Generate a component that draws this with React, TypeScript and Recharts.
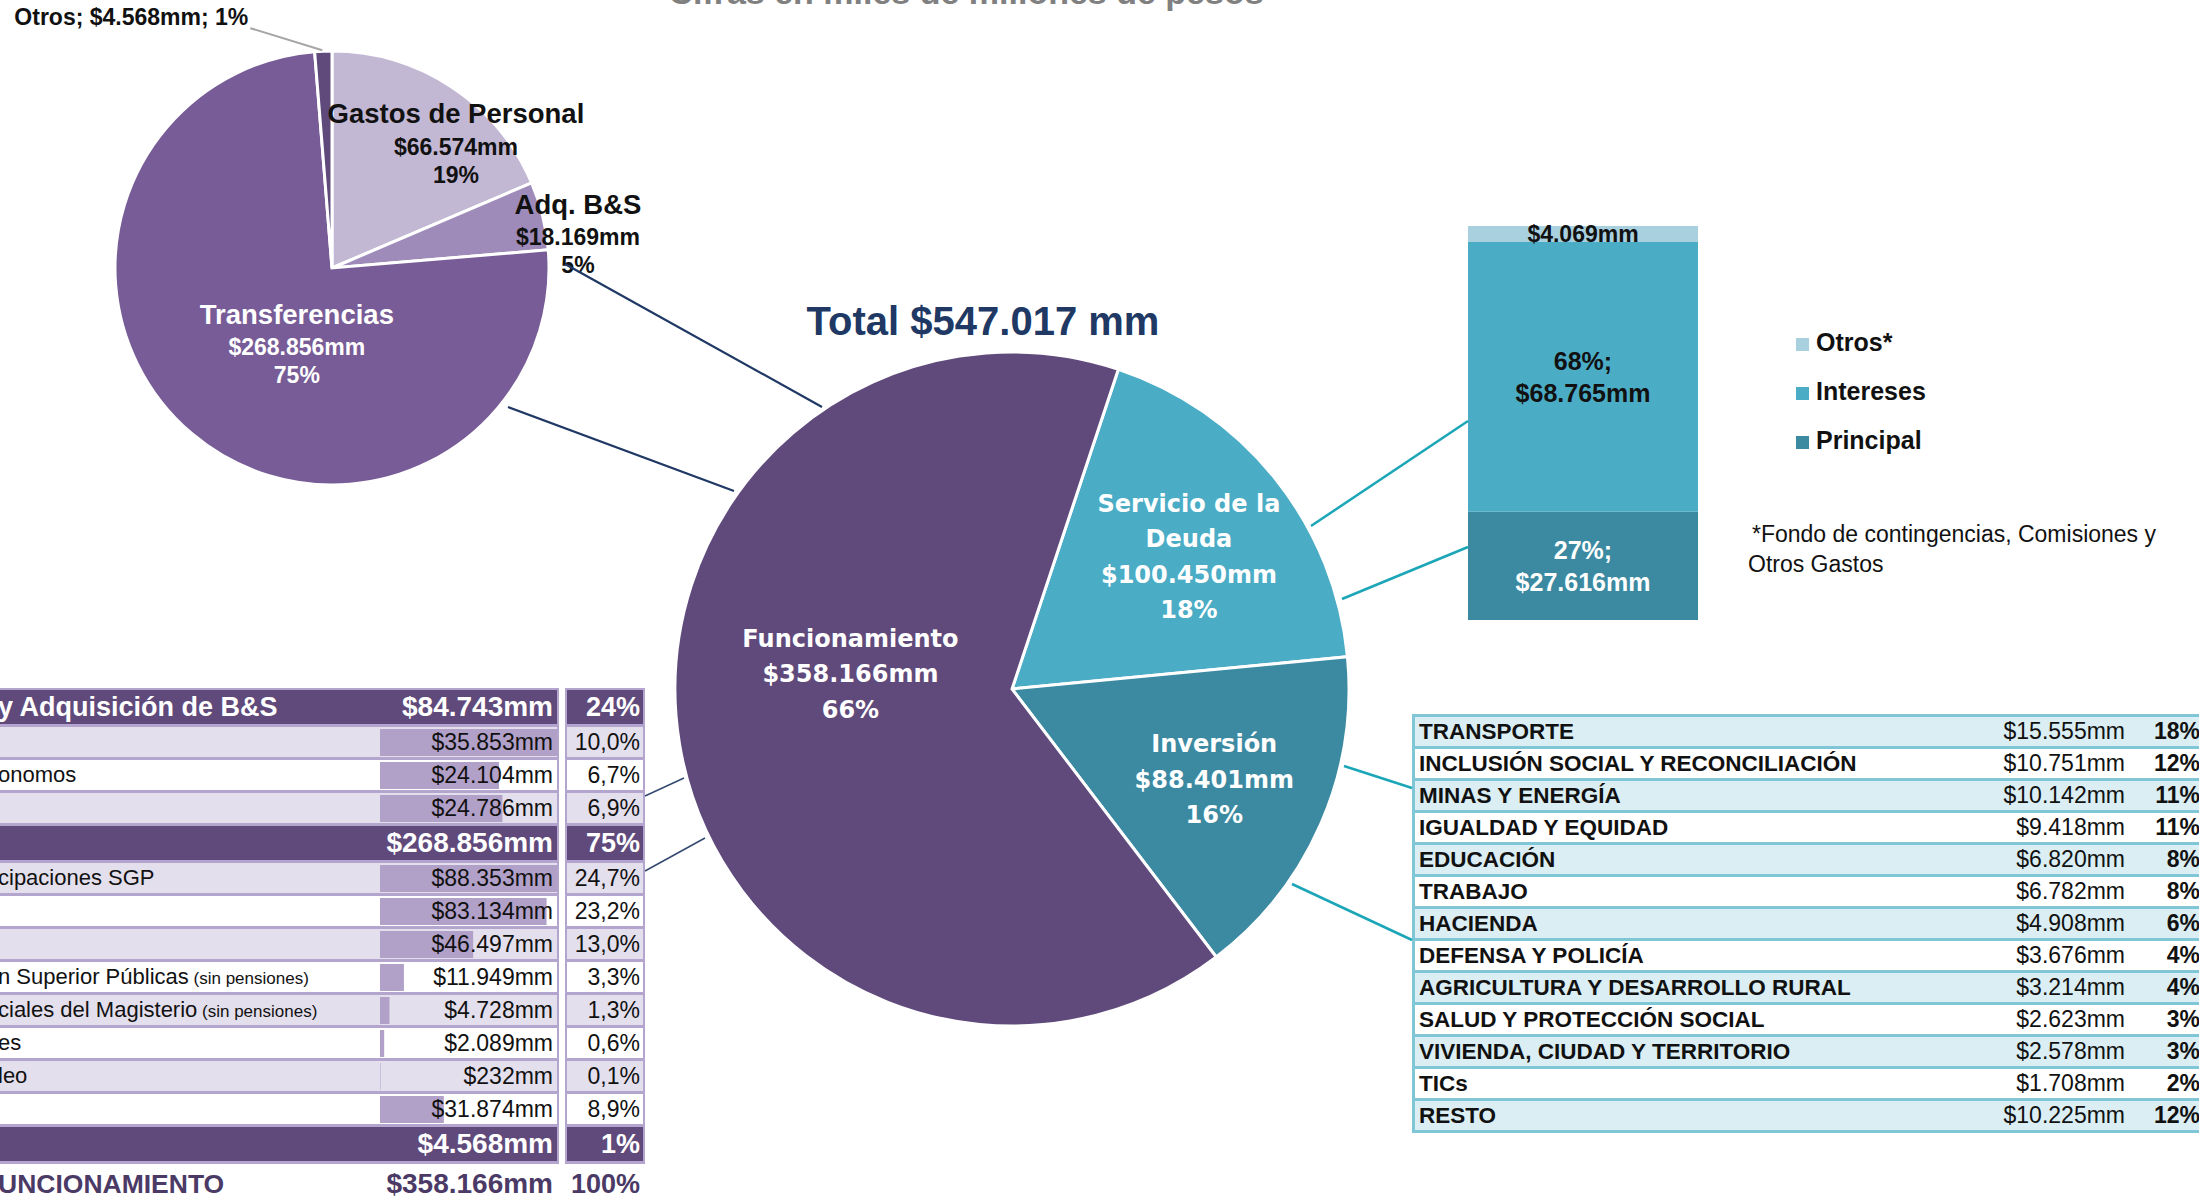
import { PieChart, Pie, Cell, BarChart, Bar, XAxis, YAxis, LabelList } from "recharts";

const SANS = '"Liberation Sans", Arial, Helvetica, sans-serif';
const WIDE = '"DejaVu Sans", Verdana, sans-serif';
const RAD = Math.PI / 180;

// cifras en miles de millones de pesos
const subtitle = "Cifras en miles de millones de pesos";
const totalLabel = "Total $547.017 mm";

const mainNames = ["Servicio de la Deuda", "Inversión", "Funcionamiento"];
const mainValues = [100450, 88401, 358166];
const mainPcts = [18, 16, 66];

const funcNames = ["Gastos de Personal", "Adq. B&S", "Transferencias", "Otros"];
const funcValues = [66574, 18169, 268856, 4568];
const funcPcts = [19, 5, 75, 1];

const debtNames = ["Principal", "Intereses", "Otros*"];
const debtValues = [27616, 68765, 4069];
const debtPcts = [27, 68, 3];
const debtNote = ["*Fondo de contingencias, Comisiones y", "Otros Gastos"];

const headerLabels = ["y Adquisición de B&S", "", ""];
const headerValues = [84743, 268856, 4568];

const gastosLabels = ["", "onomos", ""];
const gastosValues = [35853, 24104, 24786];

const transfLabels = ["cipaciones SGP", "", "", "n Superior Públicas", "ciales del Magisterio", "es", "leo", ""];
const transfNotes = ["", "", "", "(sin pensiones)", "(sin pensiones)", "", "", ""];
const transfValues = [88353, 83134, 46497, 11949, 4728, 2089, 232, 31874];

const funcTotalLabel = "UNCIONAMIENTO";
const funcTotal = 358166;

const sectorNames = [
  "TRANSPORTE",
  "INCLUSIÓN SOCIAL Y RECONCILIACIÓN",
  "MINAS Y ENERGÍA",
  "IGUALDAD Y EQUIDAD",
  "EDUCACIÓN",
  "TRABAJO",
  "HACIENDA",
  "DEFENSA Y POLICÍA",
  "AGRICULTURA Y DESARROLLO RURAL",
  "SALUD Y PROTECCIÓN SOCIAL",
  "VIVIENDA, CIUDAD Y TERRITORIO",
  "TICs",
  "RESTO",
];
const sectorValues = [15555, 10751, 10142, 9418, 6820, 6782, 4908, 3676, 3214, 2623, 2578, 1708, 10225];
const investTotal = 88401;

// colours
const MAIN_COLORS = ["#4BACC6", "#3C8AA2", "#5F4A7B"];
const FUNC_COLORS = ["#C3B8D4", "#9E8BB9", "#775C97", "#5F4A7B"];
const DEBT_COLORS = ["#3C8AA2", "#4BACC6", "#A9D0DF"];
const HEAD = "#5F4A7B";
const LIGHT = "#E4DFEC";
const LAV_LINE = "#B4A5CF";
const DATABAR = "#B1A0C8";
const TEAL_LINE = "#7FC7D6";
const TEAL_LIGHT = "#DAEEF3";

const fmt = (v: number) => "$" + String(v).replace(/\B(?=(\d{3})+(?!\d))/g, ".") + "mm";
const pct1 = (v: number) => ((v / funcTotal) * 100).toFixed(1).replace(".", ",") + "%";
const wrap = (s: string, max: number) => {
  const lines: string[] = [];
  let cur = "";
  s.split(" ").forEach((w) => {
    const t = cur ? cur + " " + w : w;
    if (t.length > max && cur) {
      lines.push(cur);
      cur = w;
    } else cur = t;
  });
  if (cur) lines.push(cur);
  return lines;
};

const mainData = mainNames.map((name, i) => ({ name, value: mainValues[i] }));
const funcData = funcNames.map((name, i) => ({ name, value: funcValues[i] }));
const debtRow = [debtValues.reduce((o: any, v, i) => ({ ...o, ["s" + i]: v }), { name: "Deuda" })];
const debtTotal = debtValues.reduce((a, b) => a + b, 0);

// label placement (radius factor + nudge)
const mainLabelPos = [
  { r: 0.66, dx: 3, dy: 6 },
  { r: 0.655, dx: 0, dy: 2 },
  { r: 0.48, dx: -2, dy: -42 },
];
const funcLabelPos = [
  { r: 0.81, dx: 27, dy: 23, color: "#111" },
  { r: 1.13, dx: 8, dy: 26, color: "#111" },
  { r: 0.4, dx: 21, dy: 11, color: "#fff" },
];

const renderMainLabel = (p: any) => {
  const { cx, cy, midAngle, outerRadius, index } = p;
  const pos = mainLabelPos[index];
  const x = cx + outerRadius * pos.r * Math.cos(-midAngle * RAD) + pos.dx;
  const y = cy + outerRadius * pos.r * Math.sin(-midAngle * RAD) + pos.dy;
  const lines = [...wrap(mainNames[index], 14), fmt(mainValues[index]), mainPcts[index] + "%"];
  const lh = 35.5;
  const y0 = y - ((lines.length - 1) * lh) / 2;
  return (
    <text x={x} textAnchor="middle" fill="#fff" fontFamily={WIDE} fontWeight={700} fontSize={24}>
      {lines.map((l, i) => (
        <tspan key={i} x={x} y={y0 + i * lh} dy="0.36em">
          {l}
        </tspan>
      ))}
    </text>
  );
};

const renderFuncLabel = (p: any) => {
  const { cx, cy, midAngle, outerRadius, index } = p;
  const ex = cx + outerRadius * Math.cos(-midAngle * RAD);
  const ey = cy + outerRadius * Math.sin(-midAngle * RAD);
  if (index === 3) {
    // small slice: outside label with leader
    return (
      <g>
        <line x1={ex - 1} y1={ey - 1} x2={ex - 73} y2={ey - 23} stroke="#A6A6A6" strokeWidth={2} />
        <text x={ex - 75} y={ey - 26} textAnchor="end" fontFamily={SANS} fontWeight={700} fontSize={23} fill="#111">
          {`${funcNames[index]}; ${fmt(funcValues[index])}; ${funcPcts[index]}%`}
        </text>
      </g>
    );
  }
  const pos = funcLabelPos[index];
  const x = cx + outerRadius * pos.r * Math.cos(-midAngle * RAD) + pos.dx;
  const y = cy + outerRadius * pos.r * Math.sin(-midAngle * RAD) + pos.dy;
  return (
    <text x={x} textAnchor="middle" fill={pos.color} fontFamily={SANS} fontWeight={700}>
      <tspan x={x} y={y - 31} dy="0.36em" fontSize={27.5}>
        {funcNames[index]}
      </tspan>
      <tspan x={x} y={y + 2} dy="0.36em" fontSize={23}>
        {fmt(funcValues[index])}
      </tspan>
      <tspan x={x} y={y + 30} dy="0.36em" fontSize={23}>
        {funcPcts[index] + "%"}
      </tspan>
    </text>
  );
};

const debtLabel = (i: number) => (p: any) => {
  const { x, y, width, height } = p;
  const cx = x + width / 2;
  const cy = y + height / 2;
  if (i === 2) {
    return (
      <text x={cx} y={cy} dy="0.36em" textAnchor="middle" fontFamily={SANS} fontWeight={700} fontSize={23} fill="#111">
        {fmt(debtValues[i])}
      </text>
    );
  }
  return (
    <text x={cx} textAnchor="middle" fontFamily={SANS} fontWeight={700} fontSize={25} fill={i === 0 ? "#fff" : "#111"}>
      <tspan x={cx} y={cy - 16} dy="0.36em">{debtPcts[i] + "%;"}</tspan>
      <tspan x={cx} y={cy + 16} dy="0.36em">{fmt(debtValues[i])}</tspan>
    </text>
  );
};

// ---------- left table ----------
const HEAD_H = 37;
const ROW_H = 33;
type TRow = { head: boolean; label: string; note: string; value: number; pct: string; light: boolean; top: number; h: number };
const tableRows: TRow[] = [];
const groupTops: number[] = [];
{
  let y = 690;
  const groups = [
    { labels: gastosLabels, notes: gastosLabels.map(() => ""), values: gastosValues },
    { labels: transfLabels, notes: transfNotes, values: transfValues },
    { labels: [] as string[], notes: [] as string[], values: [] as number[] },
  ];
  groups.forEach((g, gi) => {
    tableRows.push({
      head: true,
      label: headerLabels[gi],
      note: "",
      value: headerValues[gi],
      pct: Math.round((headerValues[gi] / funcTotal) * 100) + "%",
      light: false,
      top: y,
      h: HEAD_H,
    });
    y += HEAD_H;
    groupTops.push(y);
    g.values.forEach((v, i) => {
      tableRows.push({ head: false, label: g.labels[i], note: g.notes[i], value: v, pct: pct1(v), light: i % 2 === 0, top: y, h: ROW_H });
      y += ROW_H;
    });
  });
}
const tableBottom = tableRows[tableRows.length - 1].top + HEAD_H;

const DataBars = ({ values, top }: { values: number[]; top: number }) => (
  <div style={{ position: "absolute", left: 380, top: top - 1, zIndex: 2 }}>
    <BarChart
      layout="vertical"
      width={177}
      height={values.length * ROW_H}
      data={values.map((value, i) => ({ k: "r" + i, value }))}
      margin={{ top: 0, right: 0, bottom: 0, left: 0 }}
      barSize={27}
    >
      <XAxis type="number" hide domain={[0, "dataMax"]} />
      <YAxis type="category" dataKey="k" hide />
      <Bar dataKey="value" fill={DATABAR} isAnimationActive={false} />
    </BarChart>
  </div>
);

const LeftTable = () => (
  <>
    <div style={{ position: "absolute", left: 0, top: 688, width: 559, height: tableBottom - 688, background: LAV_LINE }} />
    <div style={{ position: "absolute", left: 565, top: 688, width: 80, height: tableBottom - 688, background: LAV_LINE }} />
    {tableRows.map((r, i) => {
      const bg = r.head ? HEAD : r.light ? LIGHT : "#fff";
      return (
        <div key={"bg" + i}>
          <div style={{ position: "absolute", left: 0, top: r.top, width: 557, height: r.h - 3, background: bg }} />
          <div style={{ position: "absolute", left: 567, top: r.top, width: 76, height: r.h - 3, background: bg }} />
        </div>
      );
    })}
    <DataBars values={gastosValues} top={groupTops[0]} />
    <DataBars values={transfValues} top={groupTops[1]} />
    {tableRows.map((r, i) => {
      const color = r.head ? "#fff" : "#111";
      const base = {
        position: "absolute" as const,
        top: r.top,
        height: r.h - 3,
        lineHeight: r.h - 3 + "px",
        color,
        fontWeight: r.head ? 700 : 400,
        zIndex: 3,
        whiteSpace: "nowrap" as const,
      };
      return (
        <div key={"tx" + i}>
          <div style={{ ...base, left: -2, fontSize: r.head ? 27 : 22 }}>
            {r.label}
            {r.note && <span style={{ fontSize: 17 }}> {r.note}</span>}
          </div>
          <div style={{ ...base, right: 2199 - 553, fontSize: r.head ? 28 : 23, textAlign: "right" }}>{fmt(r.value)}</div>
          <div style={{ ...base, right: 2199 - 640, fontSize: r.head ? 27 : 23, textAlign: "right" }}>{r.pct}</div>
        </div>
      );
    })}
    <div style={{ position: "absolute", top: tableBottom, height: 40, lineHeight: "40px", left: -2, fontSize: 26.5, fontWeight: 700, color: "#4B3A66" }}>
      {funcTotalLabel}
    </div>
    <div style={{ position: "absolute", top: tableBottom, height: 40, lineHeight: "40px", right: 2199 - 553, fontSize: 28, fontWeight: 700, color: "#4B3A66" }}>
      {fmt(funcTotal)}
    </div>
    <div style={{ position: "absolute", top: tableBottom, height: 40, lineHeight: "40px", right: 2199 - 640, fontSize: 27, fontWeight: 700, color: "#4B3A66" }}>
      100%
    </div>
  </>
);

// ---------- right table ----------
const SECTOR_TOP = 717;
const SECTOR_H = 32;
const RightTable = () => (
  <>
    {sectorNames.map((n, i) => (
      <div
        key={n}
        style={{
          position: "absolute",
          left: 1412,
          top: SECTOR_TOP + i * SECTOR_H - (i === 0 ? 3 : 0),
          width: 800,
          height: SECTOR_H + (i === 0 ? 3 : 0),
          boxSizing: "border-box",
          borderLeft: `3px solid ${TEAL_LINE}`,
          borderBottom: `3px solid ${TEAL_LINE}`,
          borderTop: i === 0 ? `3px solid ${TEAL_LINE}` : undefined,
          background: i % 2 === 0 ? TEAL_LIGHT : "#fff",
          lineHeight: SECTOR_H - 3 + "px",
          color: "#111",
          whiteSpace: "nowrap",
        }}
      >
        <span style={{ position: "absolute", left: 4, fontWeight: 700, fontSize: 22.5 }}>{n}</span>
        <span style={{ position: "absolute", right: 800 - 713, fontSize: 23 }}>{fmt(sectorValues[i])}</span>
        <span style={{ position: "absolute", right: 800 - 788, fontWeight: 700, fontSize: 23 }}>
          {Math.round((sectorValues[i] / investTotal) * 100) + "%"}
        </span>
      </div>
    ))}
  </>
);

export default function App() {
  return (
    <div
      style={{
        position: "absolute",
        left: 0,
        top: 0,
        width: 2199,
        height: 1198,
        overflow: "hidden",
        background: "#fff",
        fontFamily: SANS,
      }}
    >
      {/* desglose de funcionamiento */}
      <div style={{ position: "absolute", left: 0, top: 0 }}>
        <PieChart width={700} height={560} margin={{ top: 0, right: 0, bottom: 0, left: 0 }}>
          <Pie
            data={funcData}
            dataKey="value"
            cx={332}
            cy={268}
            outerRadius={217}
            startAngle={90}
            endAngle={-270}
            stroke="#fff"
            strokeWidth={3}
            label={renderFuncLabel}
            labelLine={false}
            isAnimationActive={false}
          >
            {funcData.map((d, i) => (
              <Cell key={d.name} fill={FUNC_COLORS[i]} />
            ))}
          </Pie>
        </PieChart>
      </div>

      {/* torta principal */}
      <div style={{ position: "absolute", left: 662, top: 339 }}>
        <PieChart width={700} height={700} margin={{ top: 0, right: 0, bottom: 0, left: 0 }}>
          <Pie
            data={mainData}
            dataKey="value"
            cx={350}
            cy={350}
            outerRadius={337}
            startAngle={71.6}
            endAngle={-288.4}
            stroke="#fff"
            strokeWidth={3}
            label={renderMainLabel}
            labelLine={false}
            isAnimationActive={false}
          >
            {mainData.map((d, i) => (
              <Cell key={d.name} fill={MAIN_COLORS[i]} />
            ))}
          </Pie>
        </PieChart>
      </div>

      {/* servicio de la deuda */}
      <div style={{ position: "absolute", left: 1468, top: 206 }}>
        <BarChart width={230} height={414} data={debtRow} margin={{ top: 20, right: 0, bottom: 0, left: 0 }} barCategoryGap={0}>
          <XAxis dataKey="name" hide />
          <YAxis hide domain={[0, debtTotal]} />
          {debtValues.map((_, i) => (
            <Bar key={i} dataKey={"s" + i} stackId="d" fill={DEBT_COLORS[i]} isAnimationActive={false}>
              <LabelList dataKey={"s" + i} content={debtLabel(i)} />
            </Bar>
          ))}
        </BarChart>
      </div>

      {/* leyenda */}
      {[2, 1, 0].map((i, k) => (
        <div key={i} style={{ position: "absolute", left: 1796, top: 342 + k * 49 - 16, height: 32, lineHeight: "32px", whiteSpace: "nowrap" }}>
          <span style={{ display: "inline-block", width: 13, height: 13, background: DEBT_COLORS[i], marginRight: 7, verticalAlign: "middle", position: "relative", top: -2 }} />
          <span style={{ fontWeight: 700, fontSize: 25, color: "#111" }}>{debtNames[i]}</span>
        </div>
      ))}
      <div style={{ position: "absolute", left: 1748, top: 519, fontSize: 23, lineHeight: "30px", color: "#111", whiteSpace: "nowrap" }}>
        <div style={{ paddingLeft: 4 }}>{debtNote[0]}</div>
        <div>{debtNote[1]}</div>
      </div>

      <LeftTable />
      <RightTable />

      {/* títulos y conectores */}
      <svg width={2199} height={1198} style={{ position: "absolute", left: 0, top: 0, pointerEvents: "none", zIndex: 5 }}>
        <text x={966} y={4} textAnchor="middle" fontFamily={SANS} fontWeight={700} fontSize={34} fill="#808080">
          {subtitle}
        </text>
        <text x={983} y={335} textAnchor="middle" fontFamily={SANS} fontWeight={700} fontSize={40} fill="#203864">
          {totalLabel}
        </text>
        <g stroke="#1F3864" strokeWidth={2.2}>
          <line x1={565} y1={264} x2={822} y2={407} />
          <line x1={508} y1={407} x2={734} y2={491} />
        </g>
        <g stroke="#34496F" strokeWidth={1.5}>
          <line x1={684} y1={778} x2={645} y2={796} />
          <line x1={705} y1={838} x2={645} y2={871} />
        </g>
        <g stroke="#1BA6B8" strokeWidth={2.5}>
          <line x1={1311} y1={526} x2={1468} y2={421} />
          <line x1={1342} y1={599} x2={1468} y2={547} />
          <line x1={1344} y1={766} x2={1412} y2={788} />
          <line x1={1292} y1={884} x2={1412} y2={940} />
        </g>
      </svg>
    </div>
  );
}
